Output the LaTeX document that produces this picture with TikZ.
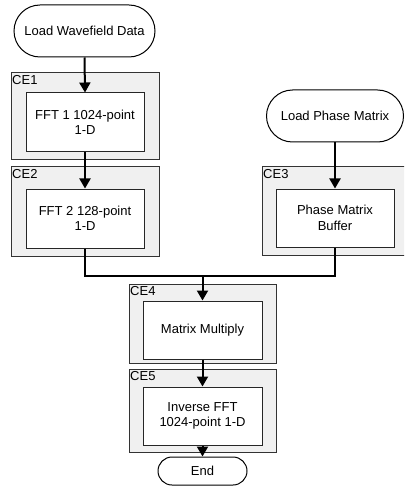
\documentclass[tikz,border=0pt]{standalone}
\usepackage{fontspec}
\setmainfont{Liberation Sans}
\usetikzlibrary{arrows.meta}
\begin{document}
\begin{tikzpicture}[x=1pt,y=-1pt,
  font=\fontsize{13}{15.5}\selectfont,
  term/.style={draw=black,line width=1pt,fill=white,rounded corners=#1,inner sep=0pt,align=center},
  group/.style={draw=black!80,line width=1pt,fill=black!6,inner sep=0pt},
  procbox/.style={draw=black!85,line width=1pt,fill=white,inner sep=0pt,align=center,minimum width=118pt,minimum height=58pt},
  glabel/.style={anchor=north west,inner sep=0pt,font=\fontsize{13}{15}\selectfont},
  conn/.style={line width=2pt,draw=black},
  arr/.style={conn,-{Triangle[length=10pt,width=11pt]}}
]
\useasboundingbox (0,0) rectangle (404,494);
\clip (0,0) rectangle (404,494);
\fill[white] (0,0) rectangle (404,494);

% terminators
\node[term=26pt,minimum width=141pt,minimum height=52pt] (lwd) at (84.5,31) {Load Wavefield Data};
\node[term=26pt,minimum width=137pt,minimum height=52pt] (lpm) at (335,116) {Load Phase Matrix};
\node[term=14pt,minimum width=89pt,minimum height=28pt] (endn) at (202.5,471) {End};

% groups
\node[group,minimum width=148pt,minimum height=87pt] (ce1) at (85,116.5) {};
\node[group,minimum width=148pt,minimum height=89pt] (ce2) at (85,211.5) {};
\node[group,minimum width=144pt,minimum height=89pt] (ce3) at (334,211) {};
\node[group,minimum width=147pt,minimum height=79pt] (ce4) at (202.5,323.5) {};
\node[group,minimum width=147pt,minimum height=83pt] (ce5) at (202.5,410.5) {};

\node[glabel] (l1) at ([xshift=1.5pt,yshift=-3pt]ce1.north west) {CE1};
\node[glabel] (l2) at ([xshift=1.5pt,yshift=-3pt]ce2.north west) {CE2};
\node[glabel] (l3) at ([xshift=1.5pt,yshift=-3pt]ce3.north west) {CE3};
\node[glabel] (l4) at ([xshift=1.5pt,yshift=-3pt]ce4.north west) {CE4};
\node[glabel] (l5) at ([xshift=1.5pt,yshift=-3pt]ce5.north west) {CE5};

% process boxes
\node[procbox,minimum height=59pt] (fft1) at (85,122.5) {FFT 1 1024-point\\1-D};
\node[procbox,minimum height=59pt] (fft2) at (85,218.5) {FFT 2 128-point\\1-D};
\node[procbox] (pmb) at (335,218) {Phase Matrix\\Buffer};
\node[procbox,minimum width=119pt] (mm) at (202.5,330) {Matrix Multiply};
\node[procbox,minimum width=119pt] (ifft) at (202.5,416) {Inverse FFT\\1024-point 1-D};

% connectors
\coordinate (jl) at (85,276);
\coordinate (jr) at (335,276);
\coordinate (jm) at (202.5,276);
\draw[arr] (lwd.south) -- (fft1.north);
\draw[arr] (fft1.south) -- (fft2.north);
\draw[arr] (lpm.south) -- (pmb.north);
\draw[conn,line join=miter] (fft2.south) -- (jl) -- (jr) -- (pmb.south);
\draw[arr] (jm) -- (mm.north);
\draw[arr] (mm.south) -- (ifft.north);
\draw[arr] (ifft.south) -- (endn.north);
\end{tikzpicture}
\end{document}
